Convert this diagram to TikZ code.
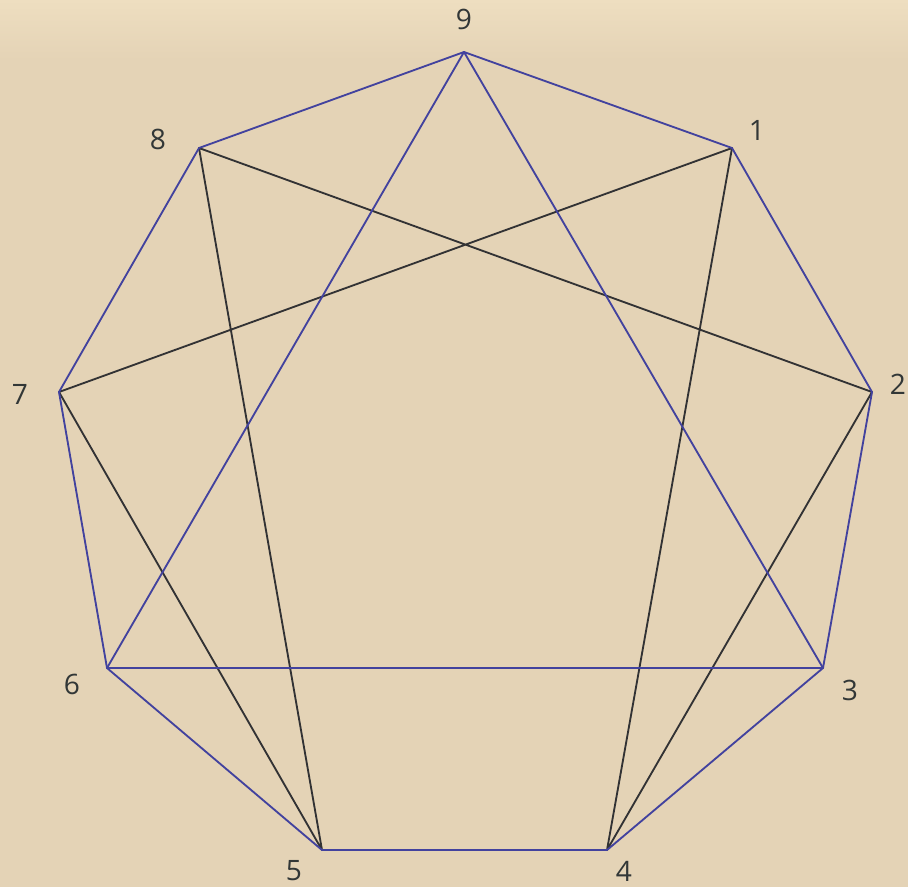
\documentclass[tikz,border=0pt]{standalone}
\usepackage{fontspec}
\setmainfont{Open Sans}
\begin{document}
\begin{tikzpicture}[x=0.02cm,y=-0.02cm,
  pt/.style={inner sep=0pt,minimum size=0pt},
  lbl/.style={text=labelgray,font=\fontsize{16}{18}\selectfont,inner sep=0pt},
  blueline/.style={draw=lineblue,line width=1.05pt,line join=round},
  darkline/.style={draw=linedark,line width=1.05pt,line join=round}]
\definecolor{paper}{RGB}{228,211,182}
\definecolor{papertop}{RGB}{238,222,192}
\definecolor{lineblue}{RGB}{66,66,158}
\definecolor{linedark}{RGB}{50,50,52}
\definecolor{labelgray}{RGB}{50,55,55}
\fill[paper] (0,0) rectangle (908,887);
\shade[top color=papertop,bottom color=paper] (0,0) rectangle (908,60);
\useasboundingbox (0,0) rectangle (908,887);
\node[pt] (p9) at (464,52) {};
\node[pt] (p1) at (732,148) {};
\node[pt] (p2) at (872,392) {};
\node[pt] (p3) at (823,668) {};
\node[pt] (p4) at (607,850) {};
\node[pt] (p5) at (322,850) {};
\node[pt] (p6) at (107,668) {};
\node[pt] (p7) at (59,392) {};
\node[pt] (p8) at (199,148) {};
\node[lbl] (l9) at (464,19) {9};
\node[lbl] (l1) at (757,130) {1};
\node[lbl] (l2) at (898,384) {2};
\node[lbl] (l3) at (850,690) {3};
\node[lbl] (l4) at (624,871) {4};
\node[lbl] (l5) at (294,871) {5};
\node[lbl] (l6) at (72,684) {6};
\node[lbl] (l7) at (20,394) {7};
\node[lbl] (l8) at (158,139) {8};
\draw[darkline] (p1.center) -- (p4.center) -- (p2.center) -- (p8.center) -- (p5.center) -- (p7.center) -- cycle;
\draw[blueline] (p9.center) -- (p1.center) -- (p2.center) -- (p3.center) -- (p4.center) -- (p5.center) -- (p6.center) -- (p7.center) -- (p8.center) -- cycle;
\draw[blueline] (p9.center) -- (p3.center) -- (p6.center) -- cycle;
\end{tikzpicture}
\end{document}
